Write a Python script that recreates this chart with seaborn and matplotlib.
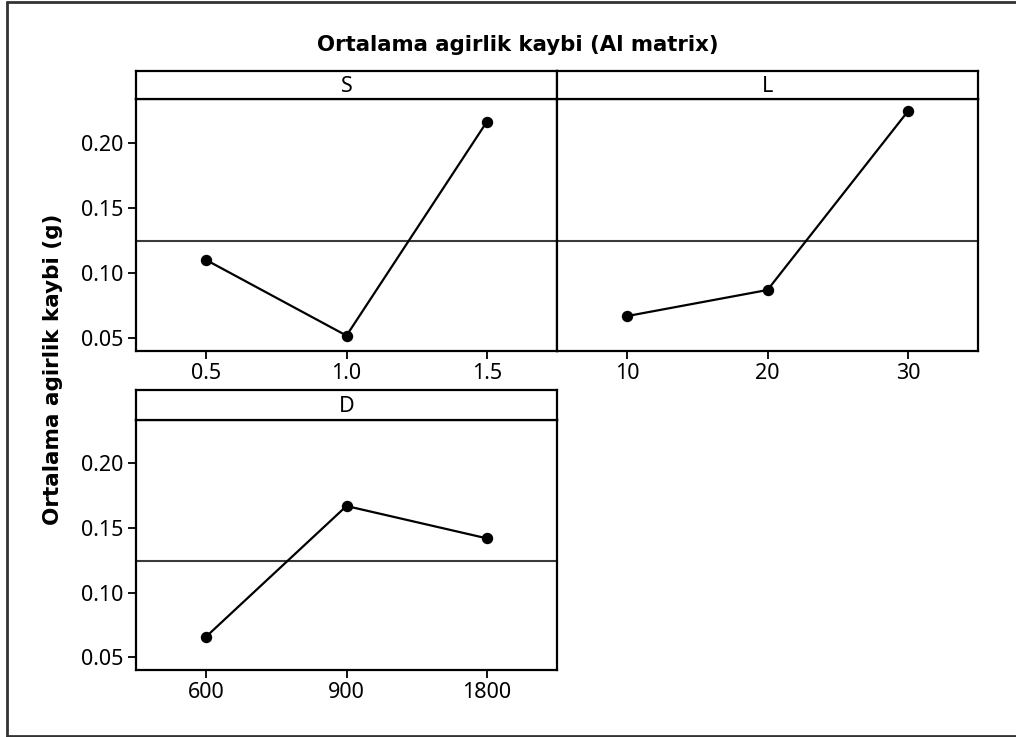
import numpy as np
import matplotlib
matplotlib.use('Agg')
import matplotlib.pyplot as plt
from matplotlib.lines import Line2D
import seaborn as sns

#values
s_levels = ['0.5', '1.0', '1.5']
s_means = [0.110, 0.052, 0.216]
l_levels = ['10', '20', '30']
l_means = [0.067, 0.087, 0.224]
d_levels = ['600', '900', '1800']
d_means = [0.066, 0.167, 0.142]
grand_mean = 0.1245

y_ticks = [0.05, 0.10, 0.15, 0.20]
y_labels = ['0.05', '0.10', '0.15', '0.20']

sns.set_theme(style='white')
plt.rcParams['font.family'] = ['Noto Sans', 'DejaVu Sans']

W, H = 1016, 737
fig = plt.figure(figsize=(W / 100, H / 100), dpi=100)

def box(x0, y0, x1, y1):    #pixel box (from top-left) -> figure fraction
    return [x0 / W, 1 - y1 / H, (x1 - x0) / W, (y1 - y0) / H]

panels = [('S', s_levels, s_means, (136, 99, 557, 351), 71, True),
          ('L', l_levels, l_means, (557, 99, 978, 351), 71, False),
          ('D', d_levels, d_means, (136, 420, 557, 670), 390, True)]

for name, levels, means, (x0, y0, x1, y1), strip_top, show_y in panels:
    ax = fig.add_axes(box(x0, y0, x1, y1))
    ax.axhline(grand_mean, color='#3a3a3a', lw=1.5, zorder=1)
    sns.pointplot(x=levels, y=means, color='black', errorbar=None,
                  markersize=7, linewidth=1.6, ax=ax)
    ax.set_xlim(-0.5, 2.5)
    ax.set_ylim(0.0402, 0.2335)
    ax.set_xlabel('')
    ax.set_ylabel('')
    ax.set_yticks(y_ticks)
    ax.set_yticklabels(y_labels if show_y else [])
    ax.tick_params(axis='both', direction='out', length=6, width=1.3,
                   color='black', labelsize=15.5, labelcolor='black', pad=3)
    ax.tick_params(axis='x', bottom=True)
    ax.tick_params(axis='y', left=show_y)
    for sp in ax.spines.values():
        sp.set_color('black')
        sp.set_linewidth(1.6)

    #strip header
    sax = fig.add_axes(box(x0, strip_top, x1, y0))
    sax.set_xticks([])
    sax.set_yticks([])
    for sp in sax.spines.values():
        sp.set_color('black')
        sp.set_linewidth(1.6)
    sax.text(0.5, 0.45, name, ha='center', va='center', fontsize=15.5,
             color='black', transform=sax.transAxes)

#no bold Noto Sans installed, so the bold titles use DejaVu Sans
fig.text(518 / W, 1 - 45 / H, 'Ortalama agirlik kaybi (Al matrix)',
         ha='center', va='center', fontsize=15.3, fontweight='bold',
         color='black', family='DejaVu Sans')
fig.text(53 / W, 1 - 369 / H, 'Ortalama agirlik kaybi (g)', rotation=90,
         ha='center', va='center', fontsize=15.5, fontweight='bold',
         color='black', family='DejaVu Sans')

#outer frame (right side cut off in the original)
fx0, fy0, fy1 = 7 / W, 1 - 2 / H, 1 - 735.5 / H
for xs, ys in [([fx0, 1], [fy0, fy0]), ([fx0, 1], [fy1, fy1]), ([fx0, fx0], [fy0, fy1])]:
    fig.add_artist(Line2D(xs, ys, color='#333333', lw=2))

fig.savefig('out.png', dpi=100)
